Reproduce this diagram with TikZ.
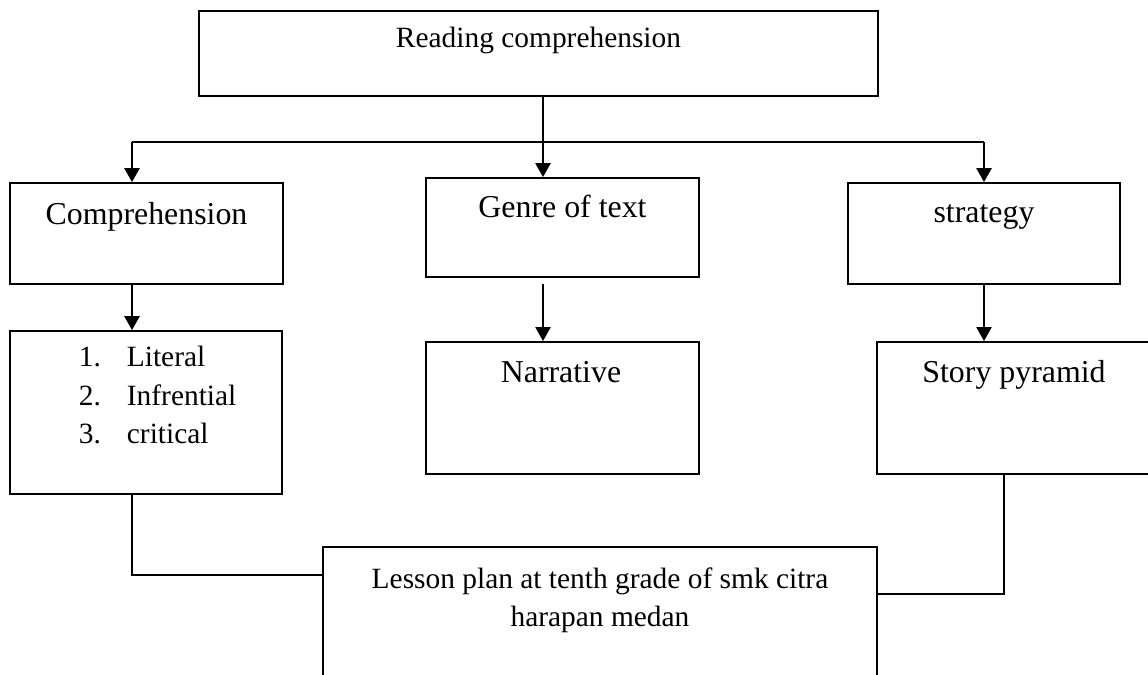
\documentclass[tikz,border=0pt]{standalone}
\usepackage{fontspec}
\setmainfont{Liberation Serif}
\usetikzlibrary{arrows.meta, positioning}

\begin{document}
\begin{tikzpicture}[
    x=0.408pt, y=-0.408pt,
    line width=0.75pt,
    box/.style={rectangle, draw, inner sep=0pt},
    ttl/.style={font=\fontsize{13}{15}\selectfont, inner sep=0pt, anchor=base},
    txt/.style={font=\fontsize{12}{14}\selectfont, inner sep=0pt, anchor=base},
    arr/.style={-{Triangle[length=5.7pt, width=6.2pt]}},
  ]
    \useasboundingbox (0,0) rectangle (1148,675);

    % Reading comprehension
    \node[box, minimum width=277pt, minimum height=34.7pt] (read) at (538.5,53.5) {};
    \node[txt] (readt) at (538.5,48) {Reading comprehension};

    % Comprehension
    \node[box, minimum width=111.4pt, minimum height=41.2pt] (comp) at (146.5,233.5) {};
    \node[ttl] (compt) at (146.5,225) {Comprehension};
    \node[box, minimum width=111pt, minimum height=66.5pt] (levels) at (146,412.5) {};
    \foreach \n/\t/\y in {1/Literal/367, 2/Infrential/406, 3/critical/444}{
      \node[txt, anchor=base west] (num\n) at (78,\y) {\n.};
      \node[txt, anchor=base west] (lev\n) at (126,\y) {\t};
    }

    % Genre of text
    \node[box, minimum width=111.4pt, minimum height=40.4pt] (genre) at (562.5,227.5) {};
    \node[ttl] (genret) at (562.5,218) {Genre of text};
    \node[box, minimum width=111.4pt, minimum height=53.9pt] (narr) at (562.5,408) {};
    \node[ttl] (narrt) at (561,383) {Narrative};

    % strategy
    \node[box, minimum width=111pt, minimum height=41.2pt] (strat) at (984,233.5) {};
    \node[ttl] (stratt) at (984,223) {strategy};
    \node[box, minimum width=113.4pt, minimum height=53.9pt] (story) at (1016,408) {};
    \node[ttl] (storyt) at (1014,383) {Story pyramid};

    % Lesson plan
    \node[box, minimum width=226pt, minimum height=70.6pt] (lesson) at (600,633.5) {};
    \node[txt] (lesson1) at (600,589) {Lesson plan at tenth grade of smk citra};
    \node[txt] (lesson2) at (600,627) {harapan medan};

    % connectors
    \coordinate (jl) at (132,142);
    \coordinate (jm) at (543,142);
    \coordinate (jr) at (984,142);
    \coordinate (gn) at (543,284);
    \coordinate (ll) at (132,575);
    \coordinate (rr) at (1004,594);
    \draw (jm |- read.south) -- (jm);
    \draw (jl) -- (jr);
    \draw[arr] (jl) -- (jl |- comp.north);
    \draw[arr] (jm) -- (jm |- genre.north);
    \draw[arr] (jr) -- (jr |- strat.north);
    \draw[arr] (jl |- comp.south) -- (jl |- levels.north);
    \draw[arr] (gn) -- (gn |- narr.north);
    \draw[arr] (jr |- strat.south) -- (jr |- story.north);
    \draw (ll |- levels.south) -- (ll) -- (ll -| lesson.west);
    \draw (rr |- story.south) -- (rr) -- (rr -| lesson.east);
\end{tikzpicture}
\end{document}
